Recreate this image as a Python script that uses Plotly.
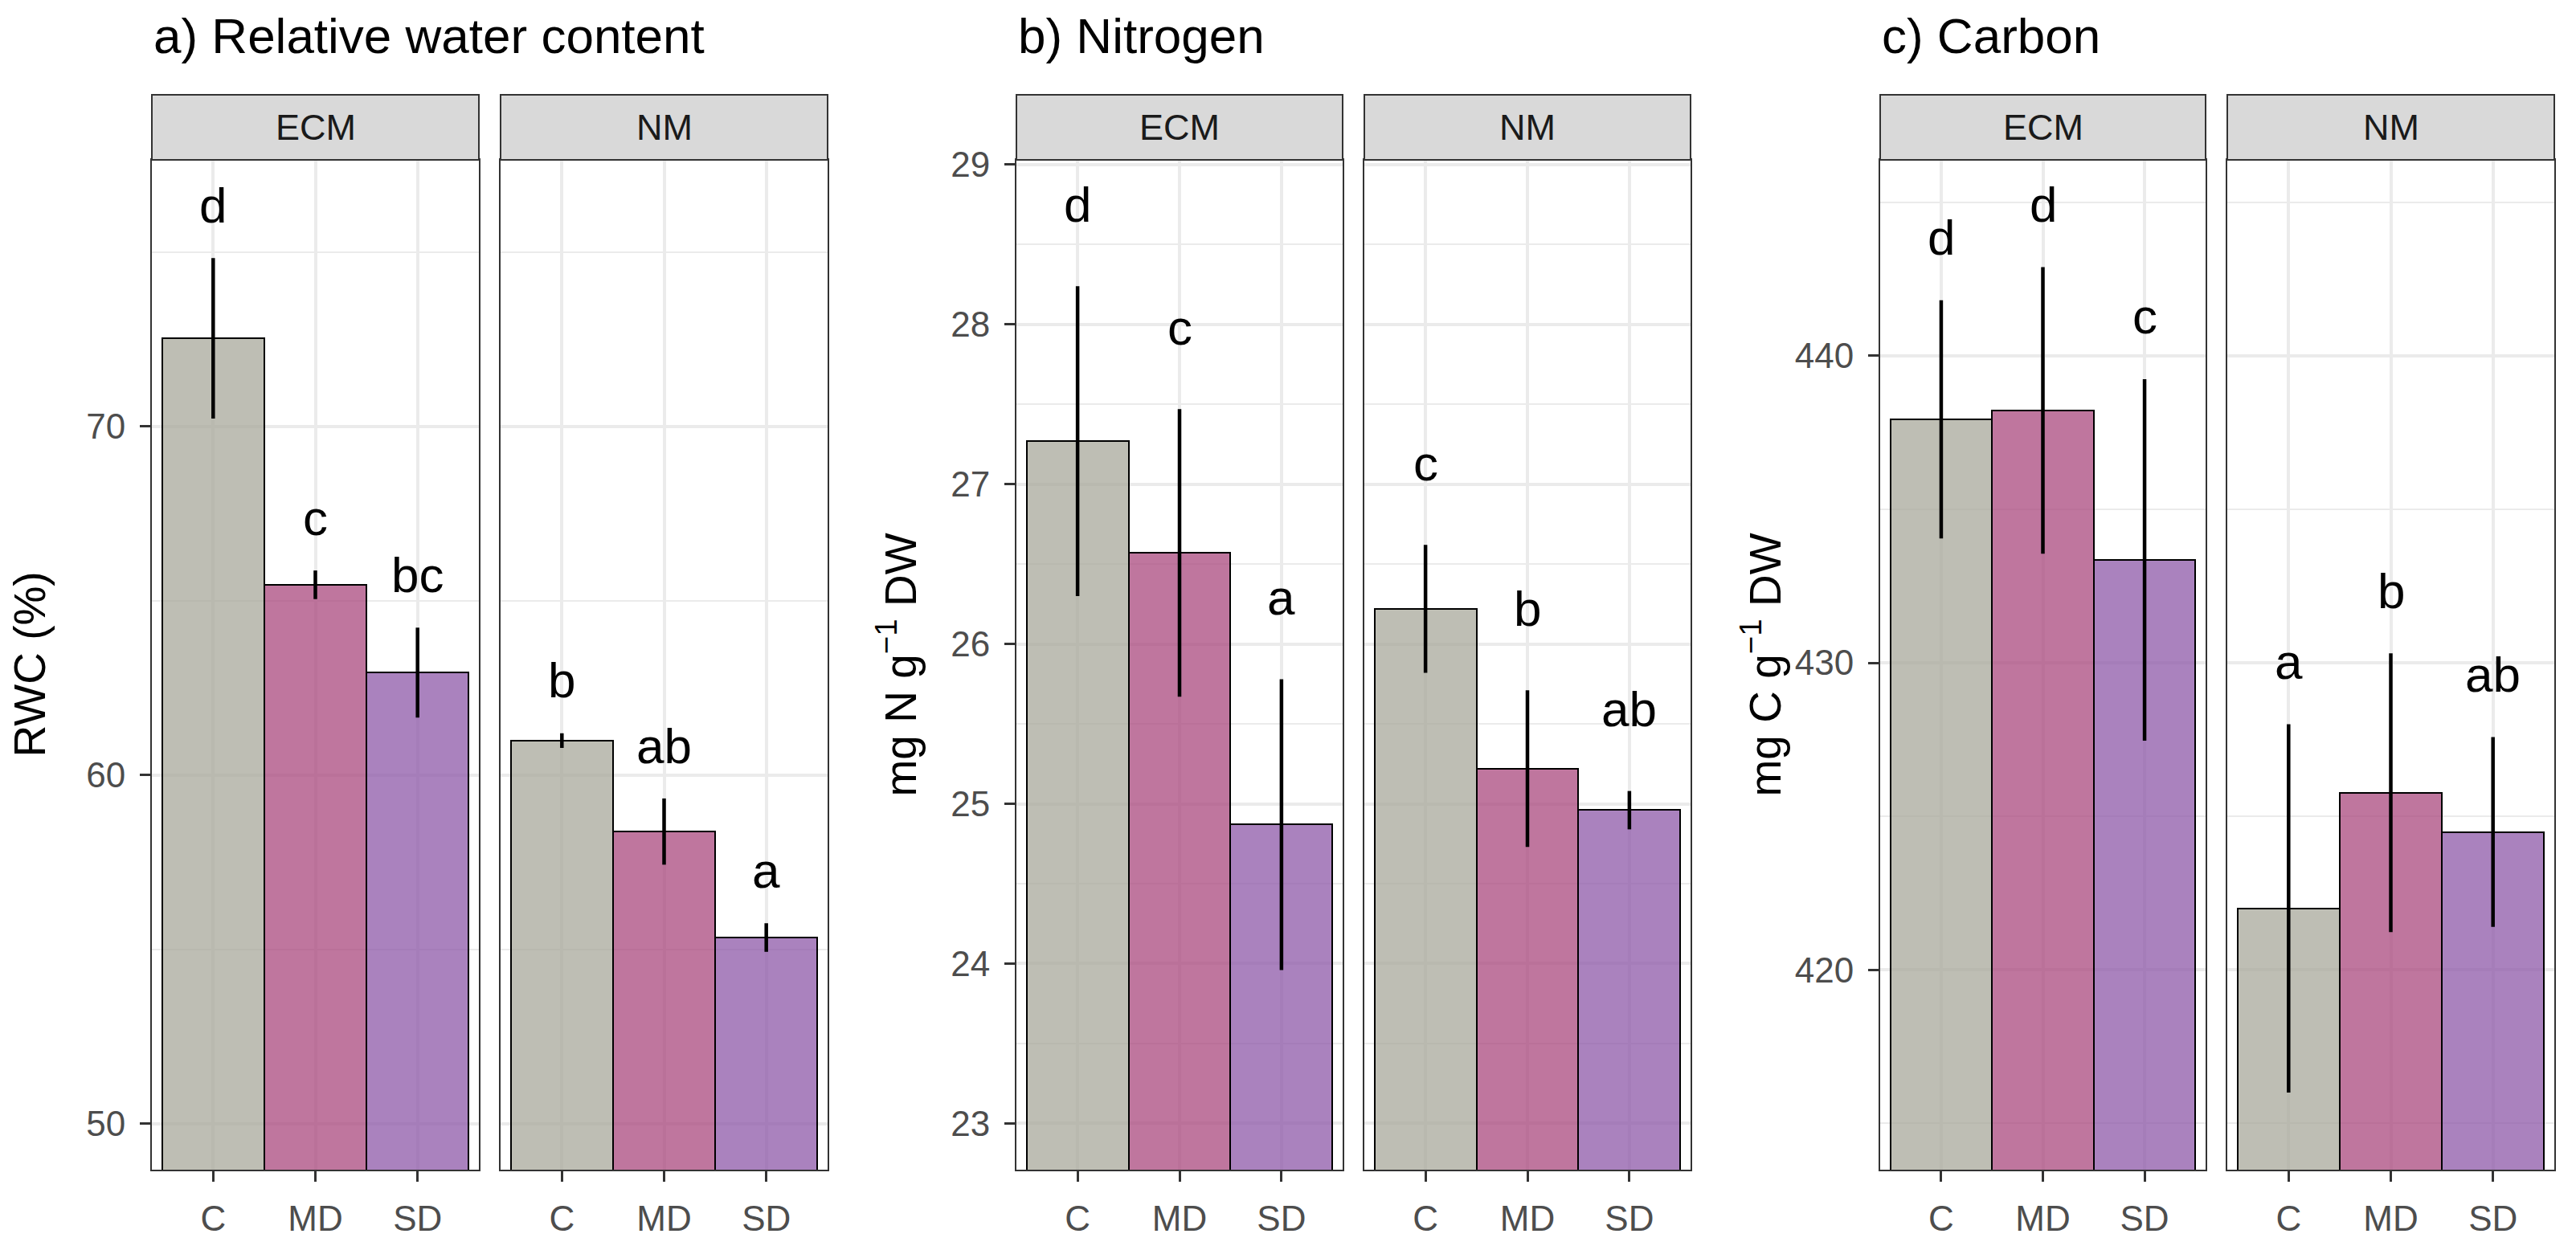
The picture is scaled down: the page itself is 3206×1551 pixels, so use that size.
import plotly.graph_objects as go

W, H = 3206, 1551
FONT = "Liberation Sans, Arial, sans-serif"

# ---------------- data ----------------
treatments = ["C", "MD", "SD"]
facets = ["ECM", "NM"]

rwc_ecm_mean = [72.53, 65.46, 62.94]
rwc_ecm_se = [2.30, 0.41, 1.29]
rwc_ecm_letters = ["d", "c", "bc"]
rwc_nm_mean = [60.99, 58.38, 55.34]
rwc_nm_se = [0.21, 0.95, 0.41]
rwc_nm_letters = ["b", "ab", "a"]

n_ecm_mean = [27.27, 26.57, 24.87]
n_ecm_se = [0.97, 0.90, 0.91]
n_ecm_letters = ["d", "c", "a"]
n_nm_mean = [26.22, 25.22, 24.96]
n_nm_se = [0.40, 0.49, 0.12]
n_nm_letters = ["c", "b", "ab"]

c_ecm_mean = [437.93, 438.22, 433.35]
c_ecm_se = [3.88, 4.67, 5.89]
c_ecm_letters = ["d", "d", "c"]
c_nm_mean = [422.00, 425.77, 424.49]
c_nm_se = [6.00, 4.54, 3.09]
c_nm_letters = ["a", "b", "ab"]

panel_titles = ["a) Relative water content", "b) Nitrogen", "c) Carbon"]
y_titles = ["RWC (%)", "mg N g<sup>\u22121</sup> DW", "mg C g<sup>\u22121</sup> DW"]
y_ranges = [[48.68, 77.65], [22.71, 29.03], [413.49, 446.38]]
y_major = [[50, 60, 70], [23, 24, 25, 26, 27, 28, 29], [420, 430, 440]]
y_minor = [(55, 10), (23.5, 1), (415, 10)]
label_offsets = [1.0, 0.4, 1.45]

panels = [
    [(rwc_ecm_mean, rwc_ecm_se, rwc_ecm_letters), (rwc_nm_mean, rwc_nm_se, rwc_nm_letters)],
    [(n_ecm_mean, n_ecm_se, n_ecm_letters), (n_nm_mean, n_nm_se, n_nm_letters)],
    [(c_ecm_mean, c_ecm_se, c_ecm_letters), (c_nm_mean, c_nm_se, c_nm_letters)],
]

# ---------------- style / layout ----------------
bar_colors = ["rgba(168,168,155,0.75)", "rgba(170,72,126,0.75)", "rgba(142,88,168,0.75)"]
facet_x_px = [[(189, 596), (623, 1030)],
              [(1265, 1671), (1698, 2104)],
              [(2340, 2745), (2772, 3179)]]
plot_top_px, plot_bot_px = 199, 1456
strip_top_px = 118
ytitle_x_px = [36, 1116, 2192]

def px_x(v):
    return v / W

def px_y(v):
    return 1 - v / H

fig = go.Figure()
layout = dict(
    width=W, height=H,
    margin=dict(l=0, r=0, t=0, b=0, pad=0, autoexpand=False),
    paper_bgcolor="white", plot_bgcolor="white",
    showlegend=False, bargap=0,
    font=dict(family=FONT, color="black"),
)
annotations = []
shapes = []

for p in range(3):
    for f in range(2):
        idx = p * 2 + f + 1
        mean, se, letters = panels[p][f]
        x0, x1 = facet_x_px[p][f]
        fig.add_trace(go.Bar(
            x=treatments, y=mean,
            marker=dict(color=bar_colors, line=dict(color="black", width=2)),
            error_y=dict(type="data", array=se, visible=True, color="black",
                         thickness=4.5, width=0),
            xaxis=f"x{idx}", yaxis=f"y{idx}",
            hoverinfo="skip",
        ))
        layout[f"xaxis{idx}"] = dict(
            domain=[px_x(x0), px_x(x1)], anchor=f"y{idx}", automargin=False,
            type="category", categoryorder="array", categoryarray=treatments,
            range=[-0.6, 2.6],
            showgrid=True, gridcolor="#EBEBEB", gridwidth=3.5,
            showline=True, mirror=True, linecolor="#333333", linewidth=2,
            ticks="outside", ticklen=13, tickwidth=3, tickcolor="#333333",
            ticklabelstandoff=8,
            tickfont=dict(size=44, color="#4D4D4D", family=FONT),
            zeroline=False, fixedrange=True,
        )
        ya = dict(
            domain=[px_y(plot_bot_px), px_y(plot_top_px)], anchor=f"x{idx}",
            automargin=False,
            range=y_ranges[p],
            tickmode="array", tickvals=y_major[p],
            showgrid=True, gridcolor="#EBEBEB", gridwidth=3.5,
            minor=dict(tickmode="linear", tick0=y_minor[p][0], dtick=y_minor[p][1],
                       showgrid=True, gridcolor="#EBEBEB", gridwidth=2, ticks=""),
            showline=True, mirror=True, linecolor="#333333", linewidth=2,
            zeroline=False, fixedrange=True,
        )
        if f == 0:
            ya.update(ticks="outside", ticklen=13, tickwidth=3, tickcolor="#333333",
                      ticklabelstandoff=9,
                      tickfont=dict(size=44, color="#4D4D4D", family=FONT))
        else:
            ya.update(matches=f"y{p*2+1}", showticklabels=False, ticks="")
        layout[f"yaxis{idx}"] = ya

        # letters above error bars
        for t, m, s, lab in zip(treatments, mean, se, letters):
            annotations.append(dict(
                x=t, y=m + s + label_offsets[p], xref=f"x{idx}", yref=f"y{idx}",
                text=lab, showarrow=False, yanchor="bottom", xanchor="center",
                yshift=-14, font=dict(size=62, color="black", family=FONT),
            ))

        # strip
        shapes.append(dict(
            type="rect", xref="paper", yref="paper",
            x0=px_x(x0), x1=px_x(x1), y0=px_y(plot_top_px), y1=px_y(strip_top_px),
            fillcolor="#D9D9D9", line=dict(color="#333333", width=2), layer="above",
        ))
        annotations.append(dict(
            x=px_x((x0 + x1) / 2), y=px_y((strip_top_px + plot_top_px) / 2),
            xref="paper", yref="paper", text=facets[f], showarrow=False,
            xanchor="center", yanchor="middle",
            font=dict(size=45, color="#1A1A1A", family=FONT),
        ))

    # panel title
    annotations.append(dict(
        x=px_x(facet_x_px[p][0][0]), y=px_y(44.7), xref="paper", yref="paper",
        text=panel_titles[p], showarrow=False, xanchor="left", yanchor="middle",
        font=dict(size=62, color="black", family=FONT),
    ))
    # y-axis title
    annotations.append(dict(
        x=px_x(ytitle_x_px[p]), y=px_y((plot_top_px + plot_bot_px) / 2),
        xref="paper", yref="paper", text=y_titles[p], showarrow=False,
        textangle=-90, xanchor="center", yanchor="middle",
        font=dict(size=55, color="black", family=FONT),
    ))

layout["annotations"] = annotations
layout["shapes"] = shapes
fig.update_layout(**layout)
fig.write_html(
    "out.html",
    config={"displayModeBar": False},
    post_script="document.body.style.margin='0px';document.body.style.overflow='hidden';",
)
